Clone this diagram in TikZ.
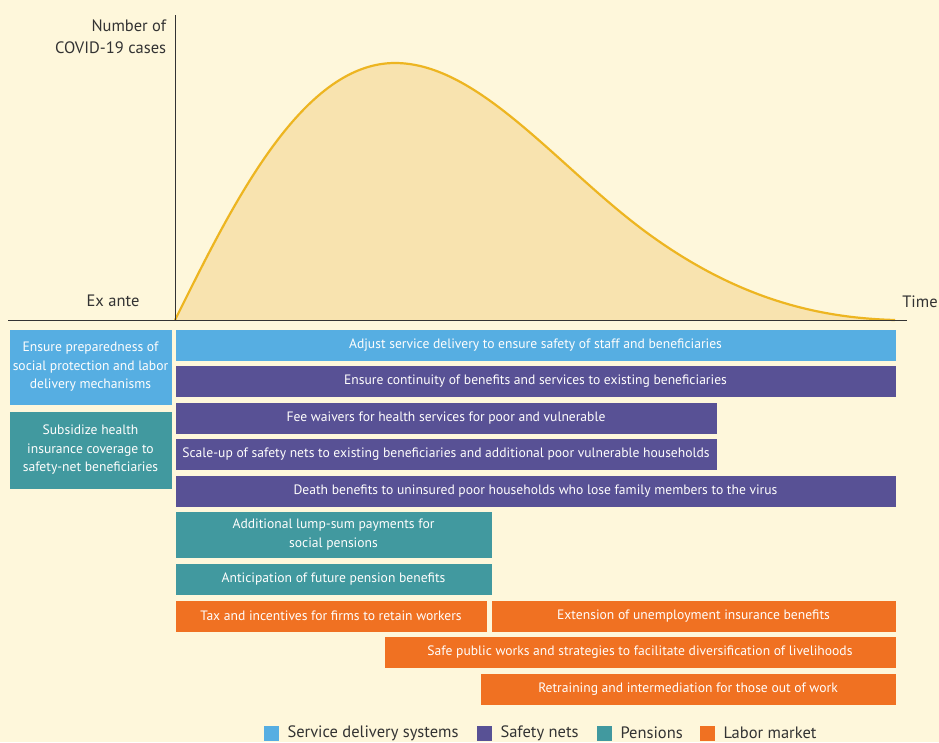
\documentclass[tikz,border=0pt]{standalone}
\usepackage{fontspec}
\setmainfont{PT Sans}
\usetikzlibrary{positioning}

\definecolor{bgcream}{HTML}{FEF7DB}
\definecolor{curvefill}{HTML}{F8E3AF}
\definecolor{curveline}{HTML}{EDB521}
\definecolor{svcblue}{HTML}{56AEE2}
\definecolor{netpurple}{HTML}{585195}
\definecolor{penteal}{HTML}{41999F}
\definecolor{laborange}{HTML}{F07122}
\definecolor{axisgray}{HTML}{333333}

\begin{document}
\begin{tikzpicture}[x=1pt,y=-1pt, line width=1pt]
                \tikzset{
                  bar/.style = {anchor=north west, inner sep=0pt, minimum height=31pt, text=white!95!bgcream, font=\fontsize{13.6}{18.5}\selectfont, align=center},
                  svc/.style = {bar, fill=svcblue},
                  nets/.style = {bar, fill=netpurple},
                  pens/.style = {bar, fill=penteal},
                  labor/.style = {bar, fill=laborange},
                  axislabel/.style = {text=axisgray, font=\fontsize{16.5}{22}\selectfont},
                  legbox/.style = {anchor=north west, inner sep=0pt, minimum size=15pt},
                  legtext/.style = {anchor=west, inner sep=0pt, text=axisgray, font=\fontsize{16.5}{18}\selectfont}
                }

                % Background
                \fill[bgcream] (0,0) rectangle (939,742);
                \useasboundingbox (0,0) rectangle (939,742);
                \clip (0,0) rectangle (939,742);

                % Axes points
                \coordinate (origin) at (175,320);
                \coordinate (ytop) at (175,15);
                \coordinate (xstart) at (8,320);
                \coordinate (xend) at (907,320);
                \coordinate (peak) at (395,63);
                \coordinate (tail) at (895,320);

                % Epidemic curve
                \fill[curvefill] (origin) .. controls (230,210) and (300,63) .. (peak)
                  .. controls (480,63) and (560,170) .. (650,235)
                  .. controls (740,300) and (820,318) .. (tail) -- cycle;
                \draw[curveline, line width=2.2pt] (origin) .. controls (230,210) and (300,63) .. (peak)
                  .. controls (480,63) and (560,170) .. (650,235)
                  .. controls (740,300) and (820,318) .. (tail);

                % Axes
                \draw[axisgray] (ytop) -- (origin);
                \draw[axisgray] (xstart) -- (xend);
                \node[axislabel, align=right, anchor=east] (ylabel) at (170,37) {Number of\\COVID-19 cases};
                \node[axislabel] (exante) at (113,301) {Ex ante};
                \node[axislabel] (time) at (920,302) {Time};

                % Ex ante measures
                \node[svc, minimum width=162pt, minimum height=75pt] (prep) at (9,329) {Ensure preparedness of\\social protection and labor\\delivery mechanisms};
                \node[pens, minimum width=162pt, minimum height=77pt] (subs) at (9,411) {Subsidize health\\insurance coverage to\\safety-net beneficiaries};

                % Response measures
                \node[svc, minimum width=720pt] (adjust) at (175,329) {Adjust service delivery to ensure safety of staff and beneficiaries};
                \node[nets, minimum width=720pt] (contin) at (175,365) {Ensure continuity of benefits and services to existing beneficiaries};
                \node[nets, minimum width=541pt] (waiver) at (175,402) {Fee waivers for health services for poor and vulnerable};
                \node[nets, minimum width=541pt] (scaleup) at (175,438) {Scale-up of safety nets to existing beneficiaries and additional poor vulnerable households};
                \node[nets, minimum width=720pt] (death) at (175,475) {Death benefits to uninsured poor households who lose family members to the virus};
                \node[pens, minimum width=316pt, minimum height=46pt] (lumpsum) at (175,511) {Additional lump-sum payments for\\social pensions};
                \node[pens, minimum width=316pt] (anticip) at (175,563) {Anticipation of future pension benefits};
                \node[labor, minimum width=311pt] (taxinc) at (175,600) {Tax and incentives for firms to retain workers};
                \node[labor, minimum width=404pt] (unemp) at (491,600) {Extension of unemployment insurance benefits};
                \node[labor, minimum width=511pt] (pubworks) at (384,636) {Safe public works and strategies to facilitate diversification of livelihoods};
                \node[labor, minimum width=415pt] (retrain) at (480,673) {Retraining and intermediation for those out of work};

                % Legend
                \node[legbox, fill=svcblue] (legsvc) at (263,725) {};
                \node[legtext, right=8pt of legsvc] (legsvctext) {Service delivery systems};
                \node[legbox, fill=netpurple] (legnets) at (476,725) {};
                \node[legtext, right=8pt of legnets] (legnetstext) {Safety nets};
                \node[legbox, fill=penteal] (legpens) at (596,725) {};
                \node[legtext, right=8pt of legpens] (legpenstext) {Pensions};
                \node[legbox, fill=laborange] (leglab) at (699,725) {};
                \node[legtext, right=8pt of leglab] (leglabtext) {Labor market};
            \end{tikzpicture}
\end{document}
